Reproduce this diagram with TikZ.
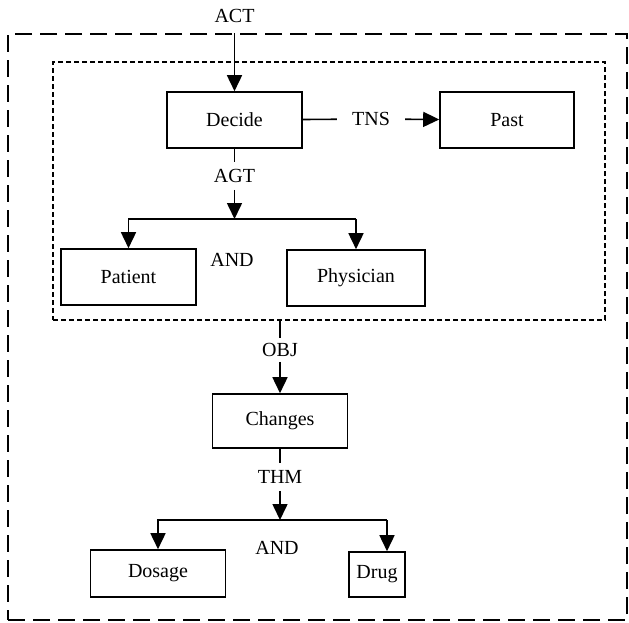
\documentclass[tikz,border=0pt]{standalone}
\usepackage{fontspec}
\setmainfont{Liberation Serif}
\usepackage{tikz}
\usetikzlibrary{arrows.meta,positioning,fit}
\tikzstyle{arrow}=[draw,-{Triangle[length=16pt,width=15pt]},line width=1.6pt]
\tikzstyle{link}=[draw,line width=1.6pt]
\tikzstyle{cbox}=[rectangle,draw,line width=1.6pt,minimum height=56pt,inner sep=0pt]
\tikzstyle{lbl}=[inner sep=6pt]

\begin{document}
\begin{tikzpicture}[x=1pt,y=-1pt,font=\fontsize{20}{24}\selectfont]
\useasboundingbox (0,0) rectangle (629,622);
% frames
\node [draw,dash pattern=on 17pt off 8pt,line width=1.8pt,minimum width=619pt,minimum height=586pt] (outer) at (317.5,327) {};
\node [draw,dash pattern=on 5pt off 3pt,line width=1.5pt,minimum width=552pt,minimum height=258pt] (inner) at (329,191) {};

% boxes
\node [cbox,minimum width=135pt] (decide) at (234.5,120) {Decide};
\node [cbox,minimum width=134pt] (past) at (507,120) {Past};
\node [cbox,minimum width=135pt] (patient) at (128.5,277) {Patient};
\node [cbox,minimum width=138pt] (physician) at (356,278) {Physician};
\node [cbox,minimum width=135pt,minimum height=54pt] (changes) at (280,421) {Changes};
\node [cbox,minimum width=135pt,minimum height=47pt] (dosage) at (158,573.5) {Dosage};
\node [cbox,minimum width=56pt,minimum height=45pt] (drug) at (377,574.5) {Drug};

% labels
\node (act) at (234.5,16) {ACT};
\node [lbl,inner xsep=15pt] (tns) at (371,119) {TNS};
\node [lbl,inner ysep=7pt] (agt) at (234.5,176) {AGT};
\node (and1) at (232,260) {AND};
\node [lbl,inner ysep=5pt] (obj) at (280,350) {OBJ};
\node [lbl,inner ysep=7pt] (thm) at (280,477) {THM};
\node (and2) at (277,548) {AND};

% ACT, TNS
\coordinate (acttop) at (act |- outer.north);
\draw[arrow] (acttop) -- (decide);
\draw[link] (decide) -- (tns);
\draw[arrow] (tns) -- (past);

% AGT branch
\coordinate (agtj) at (234.5,219);
\coordinate (agtl) at (patient |- agtj);
\coordinate (agtr) at (physician |- agtj);
\draw[link] (decide) -- (agt);
\draw[arrow] (agt) -- (agtj);
\draw[arrow] (agtr) -- (agtl) -- (patient);
\draw[arrow] (agtr) -- (physician);

% OBJ
\draw[link] (changes.north |- inner.south) -- (obj);
\draw[arrow] (obj) -- (changes);

% THM branch
\coordinate (thmj) at (280,520);
\coordinate (thml) at (dosage |- thmj);
\coordinate (thmr) at (387,520);
\draw[link] (changes) -- (thm);
\draw[arrow] (thm) -- (thmj);
\draw[arrow] (thmr) -- (thml) -- (dosage);
\draw[arrow] (thmr) -- (thmr |- drug.north);
\end{tikzpicture}
\end{document}
